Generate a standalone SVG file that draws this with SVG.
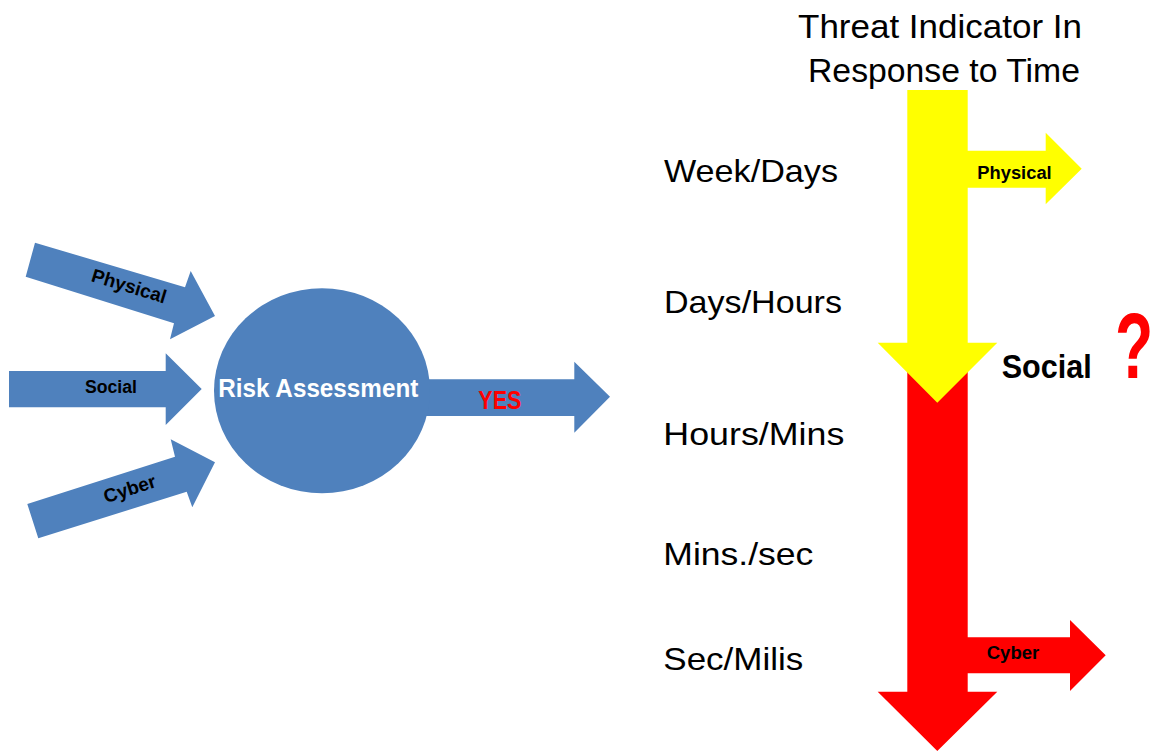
<svg xmlns="http://www.w3.org/2000/svg" width="1159" height="751" viewBox="0 0 1159 751">
<style>
.blue{fill:#4F81BD}
.yel{fill:#FFFF00}
.red{fill:#FF0000}
.t{font-family:"Liberation Sans",Arial,sans-serif;fill:#000}
.b{font-weight:bold}
.time{font-size:32px}
.lbl{font-size:18px;font-weight:bold}
</style>
<rect width="1159" height="751" fill="#fff"/>
<g id="connectors">
  <g id="arrow-physical-in">
    <polygon class="blue" points="35,242.7 185,287.3 190.7,271 215,316 170,339.3 174,323.3 25.7,276.7"/>
    <text class="t lbl" x="127.2" y="292.2" text-anchor="middle" style="font-size:19px" transform="rotate(17 127.2 292.2)">Physical</text>
  </g>
  <g id="arrow-social-in">
    <polygon class="blue" points="9,371 165.7,371 165.7,353.3 201.7,389 165.7,425 165.7,407.3 9,407.3"/>
    <text class="t lbl" x="85" y="393.3" textLength="52" lengthAdjust="spacingAndGlyphs">Social</text>
  </g>
  <g id="arrow-cyber-in">
    <polygon class="blue" points="27.3,504 175,456.7 170.7,439.3 215,462.3 192.3,507.3 186.7,491.7 38.3,538.3"/>
    <text class="t lbl" x="131.7" y="495" text-anchor="middle" style="font-size:19px" transform="rotate(-18 131.7 495)">Cyber</text>
  </g>
  <g id="arrow-yes">
    <polygon class="blue" points="400,379.3 574.3,379.3 574.3,361.7 610,396.7 574.3,432.7 574.3,416 400,416"/>
    <text class="t b" x="478.3" y="409.3" font-size="25" style="fill:#FF0000" textLength="43" lengthAdjust="spacingAndGlyphs">YES</text>
  </g>
</g>
<g id="node-risk">
  <ellipse class="blue" cx="322" cy="390.8" rx="108" ry="102.5"/>
  <text class="t b" x="218.3" y="396.7" font-size="25" style="fill:#fff" textLength="200" lengthAdjust="spacingAndGlyphs">Risk Assessment</text>
</g>
<g id="title">
  <text class="t" x="1082" y="38.3" font-size="33" text-anchor="end" textLength="284" lengthAdjust="spacingAndGlyphs">Threat Indicator In</text>
  <text class="t" x="1080" y="81.7" font-size="33" text-anchor="end" textLength="272" lengthAdjust="spacingAndGlyphs">Response to Time</text>
</g>
<g id="time-labels">
  <text class="t time" x="664" y="181.7" textLength="174" lengthAdjust="spacingAndGlyphs">Week/Days</text>
  <text class="t time" x="664" y="313.3" textLength="178" lengthAdjust="spacingAndGlyphs">Days/Hours</text>
  <text class="t time" x="663.3" y="445" textLength="181" lengthAdjust="spacingAndGlyphs">Hours/Mins</text>
  <text class="t time" x="663.3" y="565" textLength="150" lengthAdjust="spacingAndGlyphs">Mins./sec</text>
  <text class="t time" x="663.3" y="670" textLength="140" lengthAdjust="spacingAndGlyphs">Sec/Milis</text>
</g>
<g id="red-arrow">
  <polygon class="red" points="907.3,372 967.7,372 967.7,637.3 1070,637.3 1070,620 1105.7,655.3 1070,691 1070,673.3 967.7,673.3 967.7,691.7 997.3,691.7 937.3,751 877.7,691.7 907.3,691.7"/>
  <text class="t lbl" x="986.7" y="659.3" textLength="52.6" lengthAdjust="spacingAndGlyphs">Cyber</text>
</g>
<g id="yellow-arrow">
  <polygon class="yel" points="907.3,90 967.7,90 967.7,150.7 1045.7,150.7 1045.7,132.7 1081.7,168.7 1045.7,204.3 1045.7,187.7 967.7,187.7 967.7,342.7 997.3,342.7 937.3,402.7 877.7,342.7 907.3,342.7"/>
  <text class="t lbl" x="977.3" y="179.3" textLength="74.4" lengthAdjust="spacingAndGlyphs">Physical</text>
</g>
<g id="social-label">
  <text class="t b" x="1001.7" y="377.7" font-size="33" textLength="90" lengthAdjust="spacingAndGlyphs">Social</text>
  <text class="t b" x="0" y="0" font-size="92" style="fill:#FF0000" transform="translate(1115 377.7) scale(0.68 1)">?</text>
</g>
</svg>
